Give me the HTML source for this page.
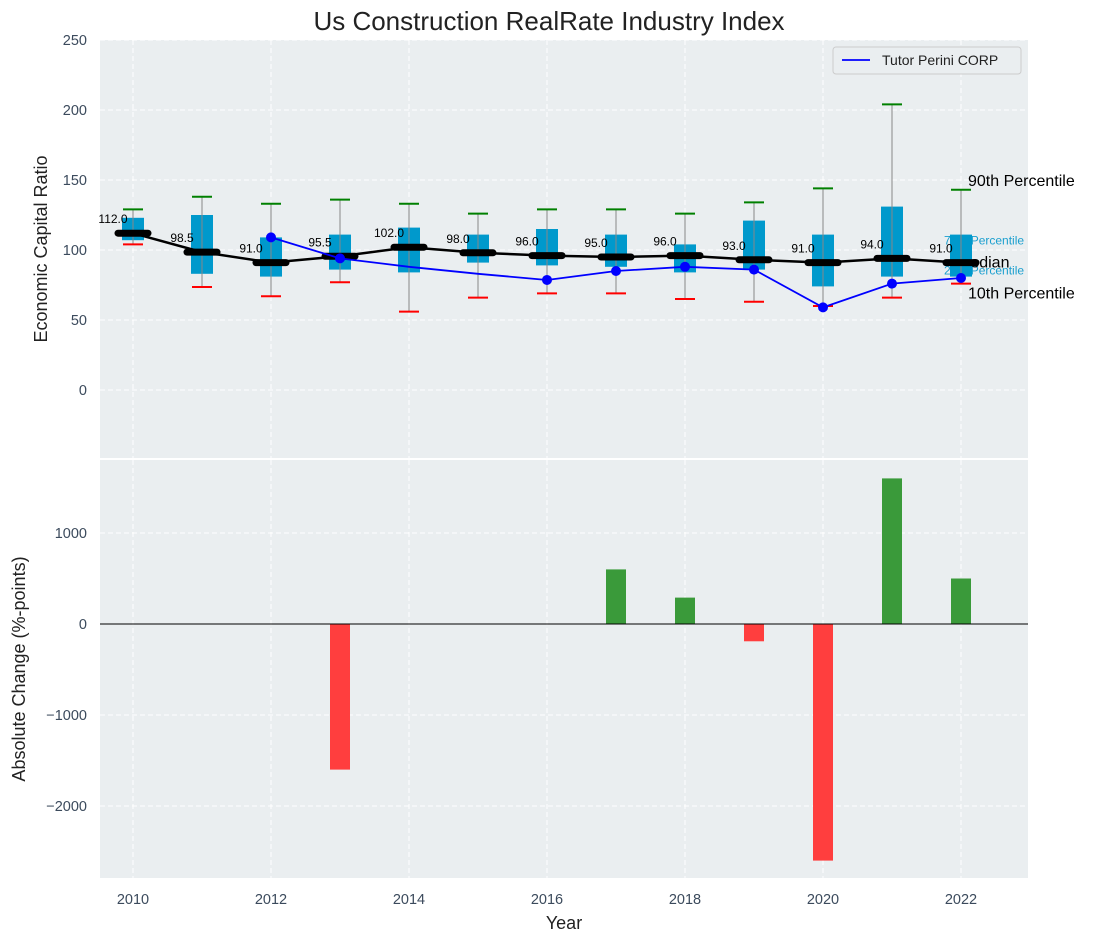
<!DOCTYPE html>
<html><head><meta charset="utf-8"><style>
body{margin:0;background:#fff}
svg{display:block;font-family:"Liberation Sans","DejaVu Sans",sans-serif}
</style></head><body>
<svg id="c" width="1103" height="942" xmlns="http://www.w3.org/2000/svg"></svg>
<script>
const years=[2010,2011,2012,2013,2014,2015,2016,2017,2018,2019,2020,2021,2022];
const p10=[104,73.6,67,77,56,66,69,69,65,63,60,66,76];
const q1=[107,83,81,86,84,91,89,88,84,86,74,81,81];
const med=[112,98.5,91,95.5,102,98,96,95,96,93,91,94,91];
const q3=[123,125,109,111,116,111,115,111,104,121,111,131,111];
const p90=[129,138,133,136,133,126,129,129,126,134,144,204,143];
const tutor=[null,null,109,94,88,83,78.6,85,88,86,59,76,80];
const tutorMarker=[false,false,true,true,false,false,true,true,true,true,true,true,true];
const changes=[0,0,0,-1600,0,0,0,600,290,-190,-2600,1600,500];
const topTicks=[0,50,100,150,200,250];
const botTicks=[-2000,-1000,0,1000];
const xTicks=[2010,2012,2014,2016,2018,2020,2022];

const NS="http://www.w3.org/2000/svg";
const svg=document.getElementById('c');
function mk(t,a,p){const e=document.createElementNS(NS,t);for(const k in a)e.setAttribute(k,a[k]);(p||svg).appendChild(e);return e;}
const L=100,R=1028;
const x=v=>133+(v-2010)*69;
const yT=v=>390-v*1.4;
const yB=v=>624-v*0.091;

let t=mk('text',{x:549,y:30,'text-anchor':'middle','font-size':26,fill:'#222'});t.textContent='Us Construction RealRate Industry Index';


let bg1=mk('rect',{x:L,y:40,width:R-L,height:418,fill:'#eaeef0'});

let bg2=mk('rect',{x:L,y:460,width:R-L,height:418,fill:'#eaeef0'});


const g=mk('g',{stroke:'#fff','stroke-dasharray':'5,3','stroke-width':1});

xTicks.forEach(v=>{mk('line',{x1:x(v),x2:x(v),y1:40,y2:458},g);mk('line',{x1:x(v),x2:x(v),y1:460,y2:878},g);});
topTicks.forEach(v=>mk('line',{x1:L,x2:R,y1:yT(v),y2:yT(v)},g));
botTicks.forEach(v=>mk('line',{x1:L,x2:R,y1:yB(v),y2:yB(v)},g));

const tc='#3b4a5c';
topTicks.forEach(v=>{let e=mk('text',{x:87,y:yT(v)+5,'text-anchor':'end','font-size':14.5,fill:tc});e.textContent=v;
});
botTicks.forEach(v=>{let e=mk('text',{x:87,y:yB(v)+5,'text-anchor':'end','font-size':14.5,fill:tc});e.textContent=v===0?'0':(v<0?'\u2212'+(-v):v);
});
xTicks.forEach(v=>{let e=mk('text',{x:x(v),y:904,'text-anchor':'middle','font-size':14.5,fill:tc});e.textContent=v;
});

let a1=mk('text',{x:47,y:249,'text-anchor':'middle','font-size':18,fill:'#222',transform:'rotate(-90 47 249)'});a1.textContent='Economic Capital Ratio';

let a2=mk('text',{x:25,y:669,'text-anchor':'middle','font-size':18,fill:'#222',transform:'rotate(-90 25 669)'});a2.textContent='Absolute Change (%-points)';

let a3=mk('text',{x:564,y:929,'text-anchor':'middle','font-size':18,fill:'#222'});a3.textContent='Year';


const lastX=x(2022);
[[lastX+7,yT(p90[12])-4,'90th Percentile',16,'#000'],[lastX-17,yT(q3[12])+10,'75th Percentile',12,'#1a9fcf'],
 [lastX-17,yT(q1[12])-2,'25th Percentile',12,'#1a9fcf'],[lastX-4,yT(med[12])+5,'Median',16,'#000'],[lastX+7,yT(p10[12])+15,'10th Percentile',16,'#000']]
.forEach(d=>{let e=mk('text',{x:d[0],y:d[1],'font-size':d[3],fill:d[4]});e.textContent=d[2];
});

years.forEach((yr,i)=>{
  const cx=x(yr);
  const bg=mk('g',{});
  
  mk('rect',{x:cx-11,y:yT(q3[i]),width:22,height:yT(q1[i])-yT(q3[i]),fill:'#0099cc'},bg);
  mk('line',{x1:cx,x2:cx,y1:yT(p90[i]),y2:yT(p10[i]),stroke:'#888','stroke-width':1},bg);
  mk('line',{x1:cx-10,x2:cx+10,y1:yT(p90[i]),y2:yT(p90[i]),stroke:'green','stroke-width':2},bg);
  mk('line',{x1:cx-10,x2:cx+10,y1:yT(p10[i]),y2:yT(p10[i]),stroke:'red','stroke-width':2},bg);
});
let mp=mk('polyline',{points:years.map((yr,i)=>x(yr)+','+yT(med[i])).join(' '),fill:'none',stroke:'#000','stroke-width':2.5});

years.forEach((yr,i)=>{let e=mk('line',{x1:x(yr)-15,x2:x(yr)+15,y1:yT(med[i]),y2:yT(med[i]),stroke:'#000','stroke-width':7,'stroke-linecap':'round'});

let l=mk('text',{x:x(yr)-20,y:yT(med[i])-10,'text-anchor':'middle','font-size':12,fill:'#000'});l.textContent=med[i].toFixed(1);
});

const pts=[];years.forEach((yr,i)=>{if(tutor[i]!=null)pts.push(x(yr)+','+yT(tutor[i]));});
let tl=mk('polyline',{points:pts.join(' '),fill:'none',stroke:'#0000ff','stroke-width':1.8});

years.forEach((yr,i)=>{if(tutor[i]!=null&&tutorMarker[i]){let c=mk('circle',{cx:x(yr),cy:yT(tutor[i]),r:5,fill:'#0000ff'});
}});

const lg=mk('g',{});
mk('rect',{x:833,y:47,width:188,height:27,fill:'#eaeef0',stroke:'#ccc',rx:3},lg);
mk('line',{x1:842,x2:870,y1:60,y2:60,stroke:'#0000ff','stroke-width':1.8},lg);
let lt=mk('text',{x:882,y:65,'font-size':14,fill:'#222'},lg);lt.textContent='Tutor Perini CORP';

years.forEach((yr,i)=>{const v=changes[i];if(!v)return;
  let r=mk('rect',{x:x(yr)-10,y:Math.min(yB(0),yB(v)),width:20,height:Math.abs(yB(v)-yB(0)),fill:v>0?'#3a9a3a':'#ff3e3e'});
  });
let zl=mk('line',{x1:L,x2:R,y1:yB(0),y2:yB(0),stroke:'#000','stroke-width':1});

</script>
</body></html>
